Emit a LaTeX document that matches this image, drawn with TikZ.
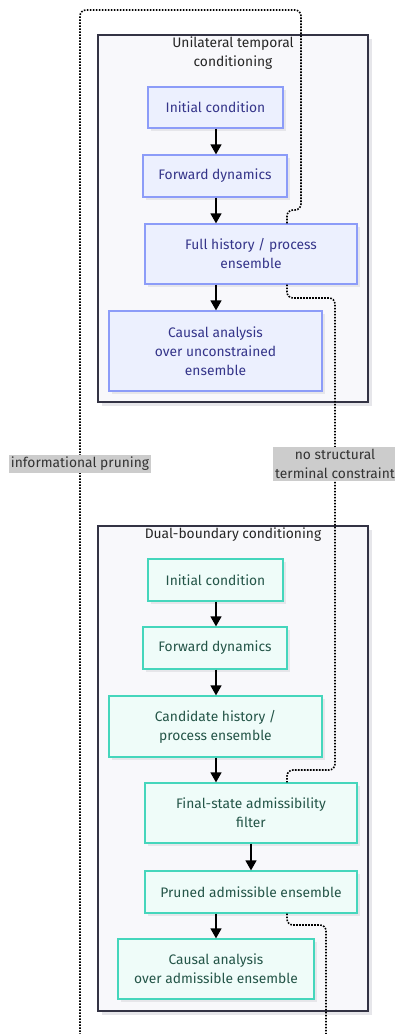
\documentclass[tikz,border=0pt]{standalone}
\usepackage{fontspec}
\setmainfont{Fira Sans}
\usetikzlibrary{arrows.meta,positioning}
\definecolor{clfill}{HTML}{F8F8FB}
\definecolor{cldraw}{HTML}{333344}
\definecolor{shadowc}{HTML}{E6E6EA}
\definecolor{bfill}{HTML}{ECF0FE}
\definecolor{bdraw}{HTML}{8C9CF8}
\definecolor{btext}{HTML}{35358A}
\definecolor{gfill}{HTML}{EFFCF9}
\definecolor{gdraw}{HTML}{45D6BC}
\definecolor{gtext}{HTML}{245548}
\definecolor{lblfill}{HTML}{CCCCCC}
\definecolor{lbltext}{HTML}{333333}
\tikzset{
  base/.style={rectangle, line width=1.2pt, align=center, inner sep=0pt,
    font=\fontsize{13.8}{19}\selectfont},
  bluebox/.style={base, draw=bdraw, fill=bfill, text=btext},
  greenbox/.style={base, draw=gdraw, fill=gfill, text=gtext},
  flow/.style={line width=1.4pt, -{Triangle[width=11pt,length=10pt]}},
  dots/.style={line width=1.6pt, dash pattern=on 1.6pt off 1.4pt, rounded corners=6pt},
  lbl/.style={fill=lblfill, text=lbltext, align=center, inner sep=2pt,
    font=\fontsize{13.8}{19}\selectfont},
  ctitle/.style={align=center, text=black!85, font=\fontsize{13.8}{19}\selectfont},
}
\newcommand{\shadowbox}[4]{\fill[shadowc] (#1+4,#2+4) rectangle (#3+4,#4+4);}
\begin{document}
\begin{tikzpicture}[x=1pt,y=-1pt]
\useasboundingbox (0,0) rectangle (395,1034);
% cluster backgrounds
\shadowbox{98}{35}{368}{402}
\draw[fill=clfill, draw=cldraw, line width=1.3pt] (98,35) rectangle (368,402);
\shadowbox{98}{526}{368}{1011}
\draw[fill=clfill, draw=cldraw, line width=1.3pt] (98,526) rectangle (368,1011);
\node[ctitle] (t1) at (233,53) {Unilateral temporal\\ conditioning};
\node[ctitle] (t2) at (233,535) {Dual-boundary conditioning};
% node shadows
\foreach \cx/\cy/\w/\h in {215.5/107.5/135/41, 215/176/144/42, 251/254/212/60, 215.5/351/213/80,
  215.5/580/135/42, 215/648/144/42, 215.5/726.5/213/61, 251/813/212/60, 251/892/212/42, 216/969/196/60}{
  \fill[shadowc] (\cx-\w/2+3,\cy-\h/2+3) rectangle (\cx+\w/2+3,\cy+\h/2+3);
}
% cluster 1 nodes
\node[bluebox, minimum width=135pt, minimum height=41pt] (i1) at (215.5,107.5) {Initial condition};
\node[bluebox, minimum width=144pt, minimum height=42pt] (f1) at (215,176) {Forward dynamics};
\node[bluebox, minimum width=212pt, minimum height=60pt] (h1) at (251,254) {Full history / process\\ ensemble};
\node[bluebox, minimum width=213pt, minimum height=80pt] (c1) at (215.5,351) {Causal analysis\\ over unconstrained\\ ensemble};
% cluster 2 nodes
\node[greenbox, minimum width=135pt, minimum height=42pt] (i2) at (215.5,580) {Initial condition};
\node[greenbox, minimum width=144pt, minimum height=42pt] (f2) at (215,648) {Forward dynamics};
\node[greenbox, minimum width=213pt, minimum height=61pt] (h2) at (215.5,726.5) {Candidate history /\\ process ensemble};
\node[greenbox, minimum width=212pt, minimum height=60pt] (a2) at (251,813) {Final-state admissibility\\ filter};
\node[greenbox, minimum width=212pt, minimum height=42pt] (p2) at (251,892) {Pruned admissible ensemble};
\node[greenbox, minimum width=196pt, minimum height=60pt] (c2) at (216,969) {Causal analysis\\ over admissible ensemble};
% flow arrows
\draw[flow] (i1.south -| 216,0) -- (f1.north -| 216,0);
\draw[flow] (f1.south -| 216,0) -- (h1.north -| 216,0);
\draw[flow] (h1.south -| 216,0) -- (c1.north -| 216,0);
\draw[flow] (i2.south -| 216,0) -- (f2.north -| 216,0);
\draw[flow] (f2.south -| 216,0) -- (h2.north -| 216,0);
\draw[flow] (h2.south -| 216,0) -- (a2.north -| 216,0);
\draw[flow] (a2.south) -- (p2.north);
\draw[flow] (p2.south -| 216,0) -- (c2.north -| 216,0);
% dotted links
\coordinate (lowL) at (80,1050);
\coordinate (lowR) at (326,1050);
\draw[dots] (p2.south -| 287,0) -- (287,925) -- (326,925) -- (lowR) -- (lowL) -- (80,10) -- (301,10) -- (301,210) -- (287,210) -- (h1.north -| 287,0);
\draw[dots] (h1.south -| 287,0) -- (287,298) -- (335,298) -- (335,770) -- (287,770) -- (a2.north -| 287,0);
\node[lbl] (l1) at (80,464) {informational pruning};
\node[lbl] (l2) at (335,464) {no structural\\ terminal constraint};
\end{tikzpicture}
\end{document}
